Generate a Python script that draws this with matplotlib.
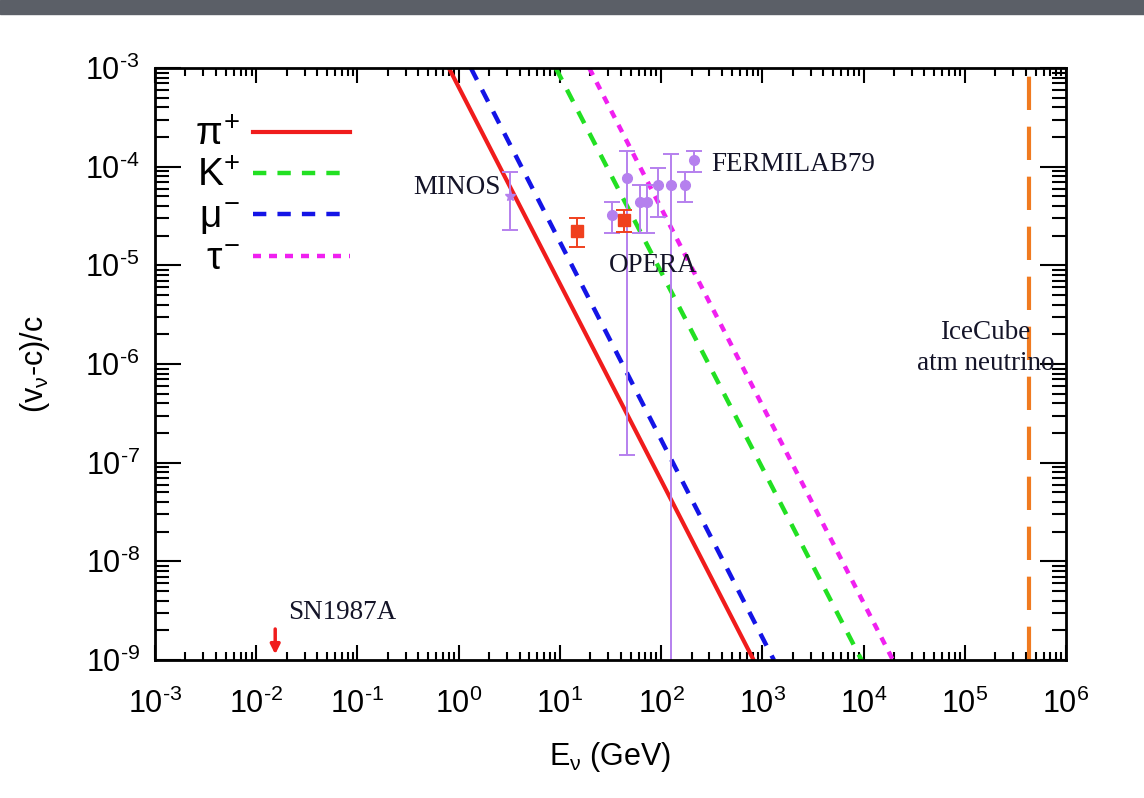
import numpy as np
import matplotlib
matplotlib.use("Agg")
import matplotlib.pyplot as plt
from matplotlib.patches import Rectangle
from matplotlib.ticker import FuncFormatter

# theory lines: (E, (v-c)/c) where each line crosses the top and bottom of the frame
pi_E = [0.8, 820.0]
pi_dv = [1e-3, 1e-9]
k_E = [9.1, 9550.0]
k_dv = [1e-3, 1e-9]
mu_E = [1.32, 1300.0]
mu_dv = [1e-3, 1e-9]
tau_E = [19.5, 19500.0]
tau_dv = [1e-3, 1e-9]

# MINOS
minos_E = [3.2]
minos_dv = [5.1e-5]
minos_lo = [2.3e-5]
minos_hi = [8.9e-5]

# OPERA
opera_E = [14.8, 43.0]
opera_dv = [2.25e-5, 2.85e-5]
opera_lo = [1.55e-5, 2.2e-5]
opera_hi = [3.0e-5, 3.6e-5]

# FERMILAB79
ferm_E = [32.7, 45.7, 61.7, 72.6, 94.0, 125.6, 174.0, 209.0]
ferm_dv = [3.25e-5, 7.6e-5, 4.4e-5, 4.4e-5, 6.5e-5, 6.5e-5, 6.5e-5, 1.17e-4]
ferm_lo = [2.15e-5, 1.2e-7, 2.15e-5, 2.15e-5, 3.1e-5, 1e-11, 4.4e-5, 8.9e-5]
ferm_hi = [4.4e-5, 1.45e-4, 6.5e-5, 6.5e-5, 9.7e-5, 1.35e-4, 8.9e-5, 1.45e-4]

icecube_E = 4.27e5
sn_E = 0.0154
sn_arrow = [2.2e-9, 1.07e-9]

plt.rcParams['font.family'] = ['Liberation Sans', 'DejaVu Sans']
plt.rcParams['mathtext.fontset'] = 'custom'
plt.rcParams['mathtext.rm'] = 'Liberation Sans'
plt.rcParams['mathtext.it'] = 'Liberation Sans'
plt.rcParams['mathtext.bf'] = 'Liberation Sans:bold'
plt.rcParams['axes.unicode_minus'] = False


def pow10(v, pos):
    k = int(round(np.log10(v)))
    if k < 0:
        return r'$\mathregular{10^{\text{-}%d}}$' % (-k)
    return r'$\mathregular{10^{%d}}$' % k


fig = plt.figure(figsize=(11.44, 7.98), dpi=100)
fig.add_artist(Rectangle((0, 1 - 14 / 798), 1, 14 / 798, transform=fig.transFigure,
                         color='#5b5f67', zorder=0))
ax = fig.add_axes([155 / 1144, 1 - 660 / 798, 911 / 1144, 592 / 798])

ax.plot(pi_E, pi_dv, color='#f01c1c', lw=3, label=r'$\pi^{+}$')
ax.plot(k_E, k_dv, color='#22e022', lw=3.2, dashes=(3, 2.5), label=r'$\mathregular{K}^{+}$')
ax.plot(mu_E, mu_dv, color='#1414e6', lw=3.2, dashes=(3, 2.5), label=r'$\mu^{-}$')
ax.plot(tau_E, tau_dv, color='#f020f0', lw=3.2, dashes=(1.8, 1.8), label=r'$\tau^{-}$')

purple = '#b580ee'
ax.errorbar(minos_E, minos_dv,
            yerr=[np.subtract(minos_dv, minos_lo), np.subtract(minos_hi, minos_dv)],
            fmt='*', color=purple, ms=8, lw=1.4, capsize=6, capthick=1.4)
ax.errorbar(ferm_E, ferm_dv,
            yerr=[np.subtract(ferm_dv, ferm_lo), np.subtract(ferm_hi, ferm_dv)],
            fmt='o', color=purple, ms=7, lw=1.4, capsize=6, capthick=1.4)
ax.errorbar(opera_E, opera_dv,
            yerr=[np.subtract(opera_dv, opera_lo), np.subtract(opera_hi, opera_dv)],
            fmt='s', color='#f0401e', ms=9, lw=1.4, capsize=6, capthick=1.4, zorder=5)

ax.axvline(icecube_E, color='#f07a20', lw=3, dashes=(8, 4))
ax.annotate('', xy=(sn_E, sn_arrow[1]), xytext=(sn_E, sn_arrow[0]),
            arrowprops=dict(arrowstyle='-|>', color='#f01c1c', lw=2.5, mutation_scale=14))

serif = dict(family=['Liberation Serif', 'DejaVu Serif'], fontsize=19.5, color='#141428')
ax.text(2.6, 6.2e-5, 'MINOS', ha='right', va='center', **serif)
ax.text(30.6, 1.0e-5, 'OPERA', ha='left', va='center', **serif)
ax.text(312, 1.04e-4, 'FERMILAB79', ha='left', va='center', **serif)
ax.text(1.6e5, 2.07e-6, 'IceCube', ha='center', va='center', **serif)
ax.text(1.6e5, 1.0e-6, 'atm neutrino', ha='center', va='center', **serif)
ax.text(0.0207, 3.0e-9, 'SN1987A', ha='left', va='center', **serif)

ax.set_xscale('log')
ax.set_yscale('log')
ax.set_xlim(1e-3, 1e6)
ax.set_ylim(1e-9, 1e-3)
ax.set_xticks([10.0 ** k for k in range(-3, 7)])
ax.set_yticks([10.0 ** k for k in range(-9, -2)])
ax.xaxis.set_major_formatter(FuncFormatter(pow10))
ax.yaxis.set_major_formatter(FuncFormatter(pow10))

for s in ax.spines.values():
    s.set_linewidth(2)
ax.tick_params(which='both', direction='in', top=True, right=True, width=1.5,
               labelsize=22, colors='black')
ax.tick_params(axis='x', which='major', length=11, pad=21)
ax.tick_params(axis='x', which='minor', length=6)
ax.tick_params(axis='y', which='major', length=19, pad=11)
ax.tick_params(axis='y', which='minor', length=10)

ax.set_xlabel(r'$\mathregular{E_{\nu}}$ (GeV)', fontsize=22, labelpad=14)
ax.set_ylabel(r'$\mathregular{(v_{\nu}}$-c)/c', fontsize=22, labelpad=24)

ax.legend(loc='upper left', bbox_to_anchor=(0.005, 0.975), frameon=False,
          markerfirst=False, fontsize=28, handlelength=2.5, handletextpad=0.33,
          labelspacing=0.13)

fig.savefig('out.png', dpi=100)
